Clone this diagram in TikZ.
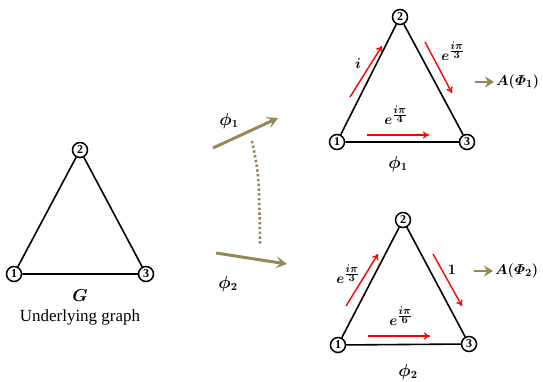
\documentclass[tikz,border=0pt]{standalone}
\usepackage{amsmath,bm}
\usepackage{fontspec}
\setmainfont{Liberation Serif}
\usetikzlibrary{arrows.meta,calc}
\definecolor{olivearr}{RGB}{150,136,84}
\newcommand{\expfr}[2]{\boldsymbol{e^{\frac{\scriptstyle #1}{\scriptstyle #2}}}}
\begin{document}
\begin{tikzpicture}[x=1pt,y=-1pt,
 vtx/.style={circle,draw,line width=1.5pt,fill=white,inner sep=0pt,minimum size=15pt,font=\fontsize{12}{13}\selectfont\bfseries},
 edge/.style={line width=1.6pt},
 redarr/.style={red,line width=1.4pt,-{To[length=6pt,width=7pt]}},
 olarr/.style={draw=olivearr,line width=3pt,-{Stealth[length=11pt,width=12pt,inset=5pt]}},
 olsmall/.style={draw=olivearr,line width=2.6pt,-{Stealth[length=9pt,width=11pt,inset=3pt]}},
 dotarc/.style={draw=olivearr,line width=2.6pt,dash pattern=on 2.4pt off 2.4pt},
 lbl/.style={inner sep=1pt,font=\fontsize{15}{17}\selectfont},
 big/.style={inner sep=1pt,font=\fontsize{16}{18}\selectfont}]
\useasboundingbox (0,0) rectangle (543,382);
% underlying graph
\node[vtx] (g1) at (14,274) {1};
\node[vtx] (g2) at (80,150) {2};
\node[vtx] (g3) at (146,274) {3};
\draw[edge] (g1) -- (g2) -- (g3) -- (g1);
\node[big] (gl) at (80,296) {$\boldsymbol{G}$};
\node[inner sep=1pt,font=\fontsize{17}{19}\selectfont] (ul) at (80,317) {Underlying graph};
% middle arrows
\coordinate (m1s) at (213,148);
\coordinate (m1e) at (278,118);
\coordinate (m2s) at (216,253);
\coordinate (m2e) at (287,264);
\draw[olarr] (m1s) -- (m1e);
\draw[olarr] (m2s) -- (m2e);
\node[big] (p1m) at (229,121) {$\boldsymbol{\phi_1}$};
\node[big] (p2m) at (228,284) {$\boldsymbol{\phi_2}$};
\coordinate (dt) at (252,141);
\coordinate (db) at (260,244);
\draw[dotarc] (dt) .. controls (259,175) .. (db);
% top triangle
\node[vtx] (a1) at (337,142) {1};
\node[vtx] (a2) at (400,17) {2};
\node[vtx] (a3) at (467,142) {3};
\draw[edge] (a1) -- (a2) -- (a3) -- (a1);
\node[big] (pa) at (398,164) {$\boldsymbol{\phi_1}$};
\coordinate (ra1s) at (350,97);
\coordinate (ra1e) at (382,46);
\coordinate (ra2s) at (425,42);
\coordinate (ra2e) at (452,93);
\coordinate (ra3s) at (367,135);
\coordinate (ra3e) at (429,135);
\draw[redarr] (ra1s) -- (ra1e);
\draw[redarr] (ra2s) -- (ra2e);
\draw[redarr] (ra3s) -- (ra3e);
\node[lbl] (la1) at (358,64) {$\boldsymbol{i}$};
\node[lbl] (la2) at (453,51) {$\expfr{i\pi}{3}$};
\node[lbl] (la3) at (396,115) {$\expfr{i\pi}{4}$};
\coordinate (oas) at (475,82);
\coordinate (oae) at (494,82);
\draw[olsmall] (oas) -- (oae);
\node[lbl,anchor=west] (Aa) at (495,82) {$\boldsymbol{A(\varPhi_1)}$};
% bottom triangle
\node[vtx] (b1) at (338,345) {1};
\node[vtx] (b2) at (403,220) {2};
\node[vtx] (b3) at (469,344) {3};
\draw[edge] (b1) -- (b2) -- (b3) -- (b1);
\node[big] (pb) at (408,372) {$\boldsymbol{\phi_2}$};
\coordinate (rb1s) at (346,306);
\coordinate (rb1e) at (378,254);
\coordinate (rb2s) at (433,254);
\coordinate (rb2e) at (462,306);
\coordinate (rb3s) at (368,336);
\coordinate (rb3e) at (430,336);
\draw[redarr] (rb1s) -- (rb1e);
\draw[redarr] (rb2s) -- (rb2e);
\draw[redarr] (rb3s) -- (rb3e);
\node[lbl] (lb1) at (348,274) {$\expfr{i\pi}{3}$};
\node[lbl] (lb2) at (452,270) {$\boldsymbol{1}$};
\node[lbl] (lb3) at (401,316) {$\expfr{i\pi}{6}$};
\coordinate (obs) at (474,271);
\coordinate (obe) at (493,271);
\draw[olsmall] (obs) -- (obe);
\node[lbl,anchor=west] (Ab) at (494,271) {$\boldsymbol{A(\varPhi_2)}$};
\end{tikzpicture}
\end{document}
